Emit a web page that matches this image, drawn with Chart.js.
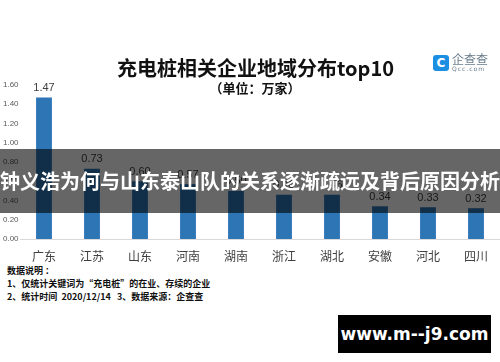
<!DOCTYPE html>
<html>
<head>
<meta charset="utf-8">
<script src="https://cdn.jsdelivr.net/npm/chart.js@4"></script>
<style>
  body { margin: 0; background: #fff; font-family: "Noto Sans CJK SC", sans-serif; }
  #wrap { position: relative; width: 500px; height: 362px; overflow: hidden; background: #fff; }
  #barChart { position: absolute; left: 0; top: 0; }
  .abs { position: absolute; white-space: nowrap; }
  #title { left: 0; width: 511px; top: 56px; text-align: center; font-size: 20px; font-weight: bold; color: #111; line-height: 24px; }
  #subtitle { left: 0; width: 510px; top: 79px; text-align: center; font-size: 13px; font-weight: bold; color: #111; line-height: 18px; }
  #logo { left: 433px; top: 55px; }
  #logoIcon { position: absolute; left: 0; top: 0; width: 16px; height: 16px; border-radius: 3px; background: #1d8fe3; color: #fff; font: bold 12px "DejaVu Sans"; text-align: center; line-height: 16px; }
  #logoText { position: absolute; left: 19px; top: -3px; font-size: 12px; color: #6a7c8c; line-height: 14px; }
  #logoSub { position: absolute; left: 19px; top: 10px; font: 6px "DejaVu Sans"; color: #6a7c8c; letter-spacing: 1px; }
  #notes { left: 7px; top: 264px; font-size: 9px; font-weight: bold; color: #111; line-height: 13px; }
  #banner { left: 0; top: 149px; width: 500px; height: 64px; background: rgba(0,0,0,0.6); color: #fff; font-size: 20px; font-weight: bold; line-height: 64px; text-align: left; }
  #mark { left: 338px; top: 315px; width: 153px; height: 38px; background: #000; color: #fff; font: bold 17px "DejaVu Sans"; line-height: 38px; text-align: center; }
</style>
</head>
<body>
<div id="wrap">
  <canvas id="barChart" width="500" height="262"></canvas>
  <div class="abs" id="title">充电桩相关企业地域分布top10</div>
  <div class="abs" id="subtitle">（单位：万家）</div>
  <div class="abs" id="logo">
    <div id="logoIcon">C</div>
    <div id="logoText">企查查</div>
    <div id="logoSub">Qcc.com</div>
  </div>
  <div class="abs" id="notes">数据说明 ：<br>1、仅统计关键词为“充电桩”的在业、存续的企业<br>2、统计时间 &nbsp;2020/12/14 &nbsp;&nbsp;3、数据来源：企查查</div>
  <div class="abs" id="banner">钟义浩为何与山东泰山队的关系逐渐疏远及背后原因分析</div>
  <div class="abs" id="mark">www.m--j9.com</div>
</div>
<script>
// Regions and number of companies (10k)
const regions = ["广东", "江苏", "山东", "河南", "湖南", "浙江", "湖北", "安徽", "河北", "四川"];
const companyCounts = [1.47, 0.73, 0.60, 0.57, 0.50, 0.46, 0.46, 0.34, 0.33, 0.32];
const yTicks = [0, 0.2, 0.4, 0.6, 0.8, 1.0, 1.2, 1.4, 1.6];

// Draw the value above each bar
const valueLabels = {
    id: "valueLabels",
    afterDatasetsDraw(chart) {
        const ctx = chart.ctx;
        const meta = chart.getDatasetMeta(0);
        ctx.save();
        ctx.font = "11px 'Liberation Sans', sans-serif";
        ctx.fillStyle = "#404040";
        ctx.textAlign = "center";
        ctx.textBaseline = "bottom";
        meta.data.forEach((bar, i) => {
            ctx.fillText(companyCounts[i].toFixed(2), bar.x, bar.y - 4);
        });
        ctx.restore();
    }
};

const ctx = document.getElementById("barChart").getContext("2d");
new Chart(ctx, {
    type: "bar",
    data: {
        labels: regions,
        datasets: [{
            data: companyCounts,
            backgroundColor: "#2e75b6",
            barPercentage: 0.66,
            categoryPercentage: 0.5
        }]
    },
    options: {
        responsive: false,
        animation: false,
        devicePixelRatio: 1,
        layout: { padding: { top: 85, right: 0, bottom: 0, left: 3 } },
        plugins: { legend: { display: false }, tooltip: { enabled: false } },
        scales: {
            x: {
                grid: { display: false },
                border: { color: "#d9d9d9" },
                ticks: { color: "#404040", font: { size: 12, family: "Noto Sans CJK SC" }, padding: 2, maxRotation: 0 },
                afterFit(scale) { scale.height = 23; }
            },
            y: {
                min: 0,
                max: 1.6,
                grid: { display: false },
                border: { display: false },
                afterBuildTicks(scale) { scale.ticks = yTicks.map(v => ({ value: v })); },
                ticks: {
                    color: "#595959",
                    font: { size: 8, family: "Liberation Sans" },
                    crossAlign: "far",
                    padding: 2,
                    callback: v => v.toFixed(2)
                },
                afterFit(scale) { scale.width = 17; }
            }
        }
    },
    plugins: [valueLabels]
});
</script>
</body>
</html>
